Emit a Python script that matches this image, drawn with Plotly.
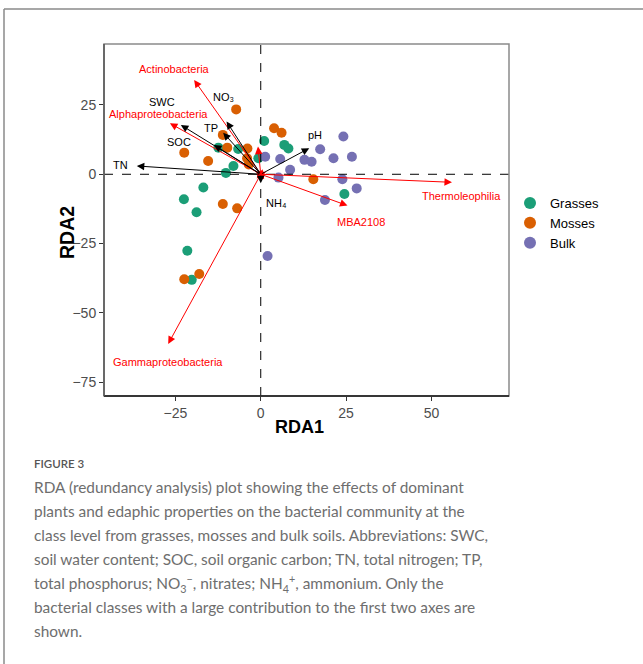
import plotly.graph_objects as go

# ---------------- data ----------------
grasses_x = [1.0, 6.9, 8.1, -12.4, -6.6, -0.7, -8.0, -10.2, -16.8, -22.5, -18.8, -21.5, -20.2, 24.5]
grasses_y = [12.0, 10.6, 9.3, 9.6, 9.1, 5.8, 3.0, 0.5, -4.8, -9.0, -13.7, -27.6, -38.1, -7.1]

mosses_x = [-7.2, 3.9, 6.1, -11.1, -9.8, -3.9, -22.4, -15.4, -4.0, -3.5, 15.4, -11.1, -6.9, -18.0, -22.4]
mosses_y = [23.4, 16.6, 15.0, 14.2, 9.6, 9.3, 7.8, 4.8, 5.8, 3.5, -1.8, -10.7, -12.3, -36.0, -37.9]

bulk_x = [1.3, 5.7, 8.6, 12.8, 14.9, 17.4, 24.2, 26.7, 21.3, 5.2, 23.9, 28.1, 18.8, 2.0]
bulk_y = [6.3, 5.5, 1.6, 5.2, 4.5, 9.0, 13.6, 6.3, 5.8, -1.2, -1.8, -5.1, -9.3, -29.5]

# environmental vectors (black)
env_names = ["NO₃", "SWC", "TP", "SOC", "TN", "pH", "NH₄"]
env_x = [-10.0, -23.4, -11.0, -13.7, -36.3, 14.2, 0.0]
env_y = [19.0, 17.8, 15.0, 10.6, 3.0, 9.4, -3.2]
env_label_x = [-10.9, -28.9, -14.7, -24.0, -41.0, 15.8, 4.7]
env_label_y = [28.0, 26.2, 16.6, 11.8, 3.4, 14.2, -10.2]

# bacterial class vectors (red)
bac_names = ["Actinobacteria", "Alphaproteobacteria", "Thermoleophilia", "MBA2108", "Gammaproteobacteria"]
bac_x = [-19.5, -26.6, 56.0, 25.4, -27.1]
bac_y = [34.0, 18.4, -2.9, -11.3, -61.2]
bac_label_x = [-25.3, -29.8, 58.9, 29.4, -27.2]
bac_label_y = [37.9, 21.8, -7.8, -17.1, -67.6]

# other (minor) bacterial classes, unlabeled
minor_x = [-0.8, 1.5, -1.2, 1.0, -1.5, 0.6]
minor_y = [10.0, 0.8, -1.5, -1.8, 1.0, 1.8]

x_ticks = [-25, 0, 25, 50]
y_ticks = [-75, -50, -25, 0, 25]

caption_title = "FIGURE 3"
caption_lines = [
    "RDA (redundancy analysis) plot showing the effects of dominant",
    "plants and edaphic properties on the bacterial community at the",
    "class level from grasses, mosses and bulk soils. Abbreviations: SWC,",
    "soil water content; SOC, soil organic carbon; TN, total nitrogen; TP,",
    "total phosphorus; NO<sub>3</sub><sup>−</sup>, nitrates; NH<sub>4</sub><sup>+</sup>, ammonium. Only the",
    "bacterial classes with a large contribution to the first two axes are",
    "shown.",
]

# ---------------- figure ----------------
W, H = 643, 664
px_l, px_r, px_t, px_b = 104, 509, 44, 396
xr = [-45.9, 72.7]
yr = [-80.0, 47.0]

fig = go.Figure()

colors = {"Grasses": "#1B9E77", "Mosses": "#D95F02", "Bulk": "#7570B3"}
for name, xs, ys in [("Grasses", grasses_x, grasses_y), ("Mosses", mosses_x, mosses_y), ("Bulk", bulk_x, bulk_y)]:
    fig.add_trace(go.Scatter(x=xs, y=ys, mode="markers", name=name,
                             marker=dict(size=10, color=colors[name], line=dict(width=0))))

annotations = []
arrow_common = dict(xref="x", yref="y", axref="x", ayref="y", ax=0, ay=0, showarrow=True,
                    arrowhead=2, arrowsize=1.5, arrowwidth=1, text="")
for x, y in zip(minor_x, minor_y):
    annotations.append(dict(x=x, y=y, arrowcolor="#FF0000", **arrow_common))
for x, y in zip(bac_x, bac_y):
    annotations.append(dict(x=x, y=y, arrowcolor="#FF0000", **arrow_common))
for x, y in zip(env_x, env_y):
    annotations.append(dict(x=x, y=y, arrowcolor="#000000", **arrow_common))

for n, x, y in zip(env_names, env_label_x, env_label_y):
    annotations.append(dict(x=x, y=y, xref="x", yref="y", text=n, showarrow=False,
                            font=dict(family="Arial, Liberation Sans", size=11, color="#000000")))
for n, x, y in zip(bac_names, bac_label_x, bac_label_y):
    annotations.append(dict(x=x, y=y, xref="x", yref="y", text=n, showarrow=False,
                            font=dict(family="Arial, Liberation Sans", size=11, color="#FF0000")))

# axis titles
annotations.append(dict(x=299 / W, y=1 - 427 / H, xref="paper", yref="paper",
                        xanchor="center", yanchor="middle",
                        text="<b>RDA1</b>", showarrow=False,
                        font=dict(family="Arial, Liberation Sans", size=18, color="#000000")))
annotations.append(dict(x=67 / W, y=1 - 233 / H, xref="paper", yref="paper",
                        xanchor="center", yanchor="middle",
                        text="<b>RDA2</b>", showarrow=False, textangle=-90,
                        font=dict(family="Arial, Liberation Sans", size=19.5, color="#000000")))

# caption
annotations.append(dict(x=32 / W, y=1 - 463 / H, xref="paper", yref="paper", xanchor="left", yanchor="middle",
                        text=caption_title, showarrow=False,
                        font=dict(family="Lato", size=11.5, color="#555555", weight=600)))
for i, line in enumerate(caption_lines):
    annotations.append(dict(x=32 / W, y=1 - (487 + 24 * i) / H, xref="paper", yref="paper",
                            xanchor="left", yanchor="middle", text=line, showarrow=False,
                            font=dict(family="Lato", size=15.4, color="#6e6e6e")))

shapes = [
    # dashed zero lines
    dict(type="line", xref="x", yref="paper", x0=0, x1=0, y0=1 - px_b / H, y1=1 - px_t / H,
         line=dict(color="#000000", width=1, dash="dash")),
    dict(type="line", xref="paper", yref="y", x0=px_l / W, x1=px_r / W, y0=0, y1=0,
         line=dict(color="#000000", width=1, dash="dash")),
    # panel border (gray), bottom/left axis lines darker
    dict(type="rect", xref="paper", yref="paper", x0=px_l / W, x1=px_r / W, y0=1 - px_b / H, y1=1 - px_t / H,
         line=dict(color="#8a8a8a", width=1.5), fillcolor="rgba(0,0,0,0)"),
    dict(type="line", xref="paper", yref="paper", x0=px_l / W, x1=px_r / W, y0=1 - px_b / H, y1=1 - px_b / H,
         line=dict(color="#111111", width=1.5)),
    dict(type="line", xref="paper", yref="paper", x0=px_l / W, x1=px_l / W, y0=1 - px_b / H, y1=1 - px_t / H,
         line=dict(color="#555555", width=1.5)),
    # outer frame
    dict(type="line", xref="paper", yref="paper", x0=4 / W, x1=1, y0=1 - 9 / H, y1=1 - 9 / H,
         line=dict(color="#8a8a8a", width=1.5)),
    dict(type="line", xref="paper", yref="paper", x0=4 / W, x1=4 / W, y0=1 - 9 / H, y1=0,
         line=dict(color="#8a8a8a", width=1.5)),
]

fig.update_layout(
    width=W, height=H,
    margin=dict(l=0, r=0, t=0, b=0),
    paper_bgcolor="white", plot_bgcolor="white",
    annotations=annotations, shapes=shapes,
    showlegend=True,
    legend=dict(x=510 / W, y=1 - 188 / H, xanchor="left", yanchor="top",
                font=dict(family="Arial, Liberation Sans", size=13, color="#000000"),
                bgcolor="rgba(0,0,0,0)", itemsizing="constant", tracegroupgap=0),
    xaxis=dict(domain=[px_l / W, px_r / W], range=xr, tickvals=x_ticks, showgrid=False, zeroline=False,
               showline=False, ticks="outside", ticklen=4,
               tickcolor="#333333", tickwidth=1,
               tickfont=dict(family="Arial, Liberation Sans", size=14, color="#4d4d4d")),
    yaxis=dict(domain=[1 - px_b / H, 1 - px_t / H], range=yr, tickvals=y_ticks, showgrid=False, zeroline=False,
               showline=False, ticks="outside", ticklen=4,
               tickcolor="#333333", tickwidth=1,
               tickfont=dict(family="Arial, Liberation Sans", size=14, color="#4d4d4d")),
)

fig.write_html("out.html", config={"displayModeBar": False},
               post_script="document.body.style.margin='0';document.body.style.padding='0';")
